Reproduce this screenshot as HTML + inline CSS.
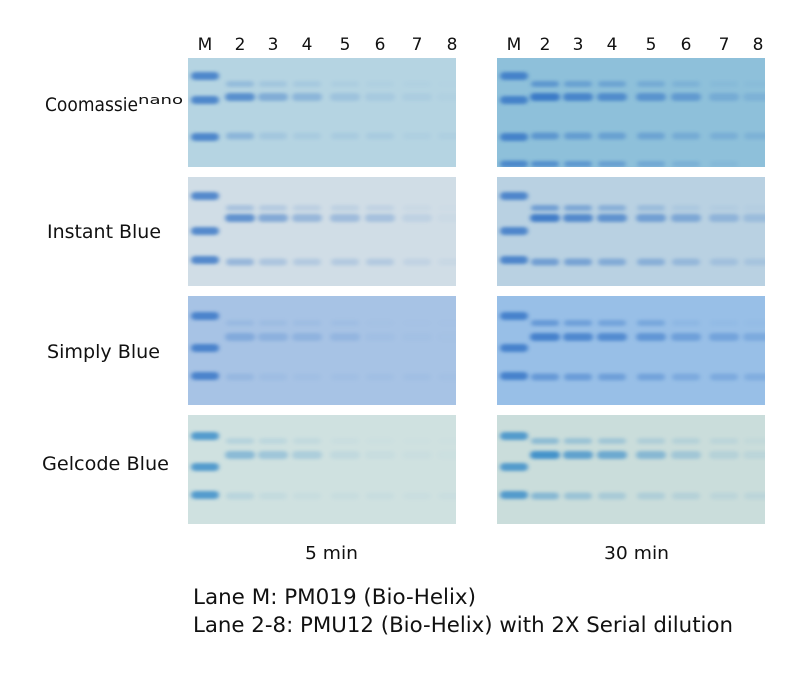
<!DOCTYPE html>
<html><head><meta charset="utf-8"><style>
body{margin:0;background:#fff;width:800px;height:680px;overflow:hidden;font-family:"DejaVu Sans","Liberation Sans",sans-serif}
svg{position:absolute;left:0;top:0}
</style></head><body>
<svg id="fig" width="800" height="680">
<defs>
<filter id="blur" x="-30%" y="-100%" width="160%" height="300%"><feGaussianBlur stdDeviation="2.2 1.6"/></filter>
</defs>
<g id="labels" fill="#111" font-family="DejaVu Sans, Liberation Sans, sans-serif">
<text x="45" y="111" font-size="19"><tspan textLength="93" lengthAdjust="spacingAndGlyphs">Coomassie</tspan><tspan font-size="12" dy="-7" textLength="45" lengthAdjust="spacingAndGlyphs">nano</tspan></text>
<text x="47" y="238" font-size="19" textLength="114" lengthAdjust="spacingAndGlyphs">Instant Blue</text>
<text x="47" y="358" font-size="19" textLength="113" lengthAdjust="spacingAndGlyphs">Simply Blue</text>
<text x="42" y="470" font-size="19" textLength="127" lengthAdjust="spacingAndGlyphs">Gelcode Blue</text>
<text x="305" y="559" font-size="18" textLength="53" lengthAdjust="spacingAndGlyphs">5 min</text>
<text x="604" y="559" font-size="18" textLength="65" lengthAdjust="spacingAndGlyphs">30 min</text>
<text x="193" y="604" font-size="21" textLength="283" lengthAdjust="spacingAndGlyphs">Lane M: PM019 (Bio-Helix)</text>
<text x="193" y="632" font-size="21" textLength="540" lengthAdjust="spacingAndGlyphs">Lane 2-8: PMU12 (Bio-Helix) with 2X Serial dilution</text>
</g>
<g id="gels"></g>
</svg>
<script>
const lanes=["M","2","3","4","5","6","7","8"];
const lanePosLeft=[205,240,273,307,345,380,417,452];
const lanePosRight=[514,545,578,612,651,686,724,758];
const rows=["coomassie","instant","simply","gelcode"];
const rowTop=[58,177,296,415];
const bg5=["#b5d4e2","#d0dde6","#a7c3e5","#cfe1e0"];
const bg30=["#8ec0da","#b9d1e2","#98bfe7","#cadddb"];
const main5=[[0.8,0.45,0.35,0.2,0.12,0.08,0.03],[0.8,0.55,0.4,0.35,0.3,0.12,0.03],[0.35,0.25,0.22,0.18,0.05,0.03,0.02],[0.5,0.35,0.25,0.1,0.05,0.03,0.02]];
const main30=[[1,0.85,0.75,0.65,0.55,0.3,0.2],[1,0.85,0.75,0.6,0.5,0.35,0.25],[0.9,0.8,0.75,0.6,0.45,0.4,0.3],[1,0.8,0.7,0.5,0.3,0.15,0.1]];
const upper30=[[0.6,0.45,0.4,0.3,0.2,0.08,0.05],[0.6,0.5,0.4,0.25,0.1,0.05,0.03],[0.55,0.45,0.4,0.35,0.1,0.05,0.03],[0.45,0.35,0.3,0.2,0.15,0.1,0.05]];
const lower30=[[0.6,0.5,0.45,0.4,0.3,0.25,0.2],[0.6,0.55,0.45,0.4,0.3,0.2,0.15],[0.55,0.5,0.45,0.4,0.3,0.3,0.25],[0.5,0.35,0.25,0.2,0.15,0.1,0.1]];
const lower5=[[0.35,0.15,0.1,0.1,0.1,0.05,0.05],[0.4,0.25,0.2,0.2,0.2,0.1,0.05],[0.15,0.08,0.05,0.05,0.05,0.05,0.03],[0.15,0.08,0.05,0.05,0.05,0.03,0.03]];
const markerY=[[18,42,79],[19,54,83],[20,52,80],[21,52,80]];
const mainY=[39,41,41,40];
const upperY=[26,31,27,26];
const lowerY=[78,85,81,81];
const gels=document.getElementById('gels');
const defs=document.querySelector('defs');
const NS="http://www.w3.org/2000/svg";
function mk(t,a){const e=document.createElementNS(NS,t);for(const k in a)e.setAttribute(k,a[k]);return e;}
function band(g,cx,y,w,h,op,col){const r=mk('rect',{x:cx-w/2,y:y-h/2,width:w,height:h,rx:h/2,fill:col,opacity:op*0.85,filter:'url(#blur)'});


g.appendChild(r);}
[[188,lanePosLeft,bg5,main5,lower5,"5min"],[497,lanePosRight,bg30,main30,lower30,"30min"]].forEach(([x0,pos,bg,mainA,lowA,tag],side)=>{
 lanes.forEach((l,i)=>{const t=mk('text',{x:pos[i],y:50,'text-anchor':'middle','font-size':'17',fill:'#111'});t.textContent=l;
 
 
 gels.appendChild(t);});
 rows.forEach((r,ri)=>{
  const top=rowTop[ri];
  const cid='c'+side+ri;
  const cp=mk('clipPath',{id:cid});cp.appendChild(mk('rect',{x:x0,y:top,width:268,height:109}));defs.appendChild(cp);
  const g=mk('g',{'clip-path':'url(#'+cid+')'});
  
  
  g.appendChild(mk('rect',{x:x0,y:top,width:268,height:109,fill:bg[ri]}));
  const col=ri==3?"#2f86c8":"#2e6fc4";
  markerY[ri].forEach(my=>band(g,pos[0],top+my,28,8,0.9,col));
  if(side==1&&ri==0){band(g,pos[0],top+106,28,7,0.8,col);}
  for(let j=0;j<7;j++){
   const cx=pos[j+1];
   band(g,cx,top+mainY[ri],30,8,mainA[ri][j],col);
   const up=side==1?upper30[ri][j]:mainA[ri][j]*0.35;
   band(g,cx,top+upperY[ri],28,6,up,col);
   band(g,cx,top+lowerY[ri],28,7,lowA[ri][j],col);
   if(side==1&&ri==0)band(g,cx,top+106,28,6,Math.max(0,0.7-j*0.12),col);
  }
  gels.appendChild(g);
 });
});
</script>
</body></html>
